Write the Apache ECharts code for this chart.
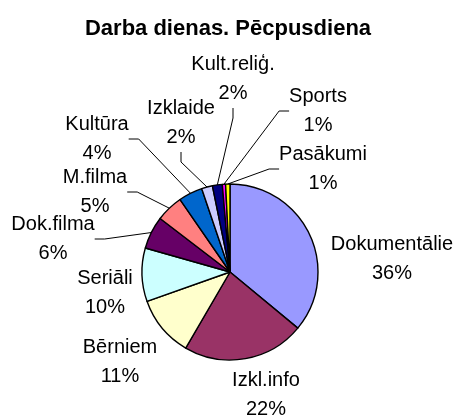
<!DOCTYPE html>
<html>
<head>
<meta charset="utf-8">
<script src="https://cdn.jsdelivr.net/npm/echarts@6/dist/echarts.min.js"></script>
<style>
    html, body { margin: 0; padding: 0; background: #fff; }
    #chart { width: 456px; height: 416px; }
</style>
</head>
<body>
<div id="chart"></div>
<script>
var categories = ['Dokumentālie', 'Izkl.info', 'Bērniem', 'Seriāli', 'Dok.filma', 'M.filma',
    'Kultūra', 'Izklaide', 'Kult.reliģ.', 'Sports', 'Pasākumi'];
var shares = [36.0, 22.4, 11.2, 9.8, 6.0, 5.0, 4.4, 2.0, 1.8, 0.6, 0.8];

// excel palette, same order as the slices
var colors = ['#9999ff', '#993366', '#ffffcc', '#ccffff', '#660066', '#ff8080',
    '#0066cc', '#ccccff', '#000080', '#ff00ff', '#ffff00'];
// label block centres and which labels get a leader line
var labelPos = [[392, 259], [266, 395], [120, 362], [105, 293], [53, 239], [95, 192],
    [97, 139], [181, 123], [233, 79], [318, 111], [323, 169]];
var withLine = [false, false, false, false, true, true, true, true, true, true, true];

var font = '"Liberation Sans", Arial, sans-serif';

var pieData = categories.map(function (name, i) {
    return {
        name: name,
        value: shares[i],
        itemStyle: {color: colors[i]},
        labelLine: {show: withLine[i]}
    };
});

var chart = echarts.init(document.getElementById('chart'));
chart.setOption({
    animation: false,
    title: {
        text: 'Darba dienas. Pēcpusdiena',
        left: 'center',
        top: 13,
        textStyle: {
            fontFamily: font,
            fontSize: 22,
            fontWeight: 'bold',
            color: '#000'
        }
    },
    series: [
        {
            type: 'pie',
            center: [230, 272],
            radius: 88,
            startAngle: 90,
            clockwise: true,
            percentPrecision: 0,
            avoidLabelOverlap: false,
            data: pieData,
            itemStyle: {
                borderColor: '#000',
                borderWidth: 1.4
            },
            emphasis: {disabled: true},
            label: {
                show: true,
                position: 'outside',
                formatter: '{b}\n{d}%',
                fontFamily: font,
                fontSize: 20,
                lineHeight: 29,
                color: '#000',
                align: 'center'
            },
            labelLine: {
                length: 10,
                length2: 10,
                lineStyle: {color: '#000', width: 1}
            },
            labelLayout: function (params) {
                var p = labelPos[params.dataIndex];
                return {x: p[0], y: p[1], align: 'center', verticalAlign: 'middle'};
            }
        }
    ]
});
</script>
</body>
</html>
